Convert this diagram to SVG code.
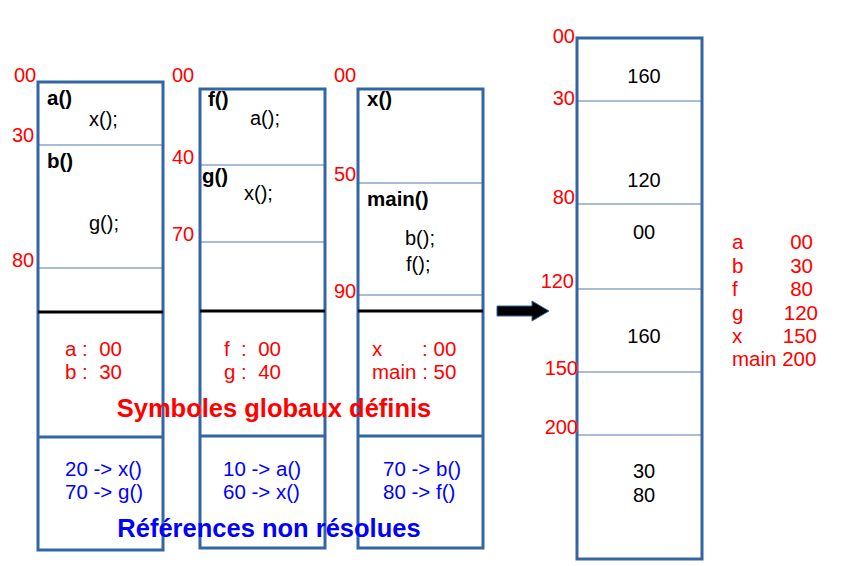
<svg xmlns="http://www.w3.org/2000/svg" width="845" height="566" viewBox="0 0 845 566">
<style>
text{font-family:"Liberation Sans",Arial,sans-serif;white-space:pre;}
.box{fill:none;stroke:#3465a4;stroke-width:3;}
.thin{stroke:#3465a4;stroke-width:1;opacity:0.85;}
.sep{stroke:#000;stroke-width:3;}
.sep2{stroke:#3465a4;stroke-width:3;}
.addr{fill:#ff0000;font-size:20px;}
.code{fill:#000;font-size:20px;}
.fn{fill:#000;font-size:20.5px;font-weight:bold;}
.sym{fill:#ff0000;font-size:20.5px;}
.ref{fill:#0000ff;font-size:20.5px;}
.mem{fill:#000;font-size:20px;text-anchor:middle;}
</style>
<g id="module1">
<rect class="box" x="38" y="82" width="125" height="468"/>
<line class="thin" x1="38" y1="145" x2="163" y2="145"/>
<line class="thin" x1="38" y1="268" x2="163" y2="268"/>
<line class="sep" x1="38" y1="312" x2="163" y2="312"/>
<line class="sep2" x1="38" y1="437" x2="163" y2="437"/>
<text class="addr" x="14" y="82">00</text>
<text class="addr" x="12" y="142">30</text>
<text class="addr" x="12" y="267">80</text>
<text class="fn" x="47" y="105">a()</text>
<text class="code" x="89" y="126">x();</text>
<text class="fn" x="47" y="168">b()</text>
<text class="code" x="89" y="230">g();</text>
<text class="sym" x="65" y="356" xml:space="preserve">a :  00</text>
<text class="sym" x="65" y="379" xml:space="preserve">b :  30</text>
<text class="ref" x="65" y="476">20 -&gt; x()</text>
<text class="ref" x="65" y="499">70 -&gt; g()</text>
</g>
<g id="module2">
<rect class="box" x="200" y="89" width="125" height="459"/>
<line class="thin" x1="200" y1="165" x2="325" y2="165"/>
<line class="thin" x1="200" y1="242" x2="325" y2="242"/>
<line class="sep" x1="200" y1="311" x2="325" y2="311"/>
<line class="sep2" x1="200" y1="436" x2="325" y2="436"/>
<text class="addr" x="172" y="82">00</text>
<text class="addr" x="172" y="164">40</text>
<text class="addr" x="172" y="241">70</text>
<text class="fn" x="208" y="106">f()</text>
<text class="code" x="250" y="125">a();</text>
<text class="fn" x="202" y="183">g()</text>
<text class="code" x="244" y="200">x();</text>
<text class="sym" x="224" y="356" xml:space="preserve">f  :  00</text>
<text class="sym" x="224" y="379" xml:space="preserve">g :  40</text>
<text class="ref" x="223" y="476">10 -&gt; a()</text>
<text class="ref" x="223" y="499">60 -&gt; x()</text>
</g>
<g id="module3">
<rect class="box" x="358" y="89" width="125" height="459"/>
<line class="thin" x1="358" y1="183" x2="483" y2="183"/>
<line class="thin" x1="358" y1="295" x2="483" y2="295"/>
<line class="sep" x1="358" y1="311" x2="483" y2="311"/>
<line class="sep2" x1="358" y1="436" x2="483" y2="436"/>
<text class="addr" x="334" y="82">00</text>
<text class="addr" x="334" y="181">50</text>
<text class="addr" x="334" y="298">90</text>
<text class="fn" x="367" y="106">x()</text>
<text class="fn" x="367" y="206">main()</text>
<text class="code" x="405" y="245">b();</text>
<text class="code" x="406" y="271">f();</text>
<text class="sym" x="372" y="356" xml:space="preserve">x       : 00</text>
<text class="sym" x="372" y="379">main : 50</text>
<text class="ref" x="383" y="476">70 -&gt; b()</text>
<text class="ref" x="383" y="499">80 -&gt; f()</text>
</g>
<g id="titles">
<text x="274" y="417" text-anchor="middle" style="fill:#ff0000;font-size:25.5px;font-weight:bold">Symboles globaux définis</text>
<text x="269" y="537" text-anchor="middle" style="fill:#0000ff;font-size:25.5px;font-weight:bold">Références non résolues</text>
</g>
<g id="connectors">
<polygon points="497,306 532,306 532,301 549,311 532,321 532,316 497,316" fill="#000" stroke="#3465a4" stroke-width="1"/>
</g>
<g id="executable">
<rect class="box" x="577" y="38" width="125" height="521"/>
<line class="thin" x1="577" y1="101" x2="702" y2="101"/>
<line class="thin" x1="577" y1="204" x2="702" y2="204"/>
<line class="thin" x1="577" y1="289" x2="702" y2="289"/>
<line class="thin" x1="577" y1="372" x2="702" y2="372"/>
<line class="thin" x1="577" y1="435" x2="702" y2="435"/>
<text class="addr" x="575" y="43" text-anchor="end">00</text>
<text class="addr" x="575" y="105" text-anchor="end">30</text>
<text class="addr" x="575" y="204" text-anchor="end">80</text>
<text class="addr" x="574" y="288" text-anchor="end">120</text>
<text class="addr" x="578" y="375" text-anchor="end">150</text>
<text class="addr" x="578" y="434" text-anchor="end">200</text>
<text class="mem" x="644" y="83">160</text>
<text class="mem" x="644" y="187">120</text>
<text class="mem" x="644" y="239">00</text>
<text class="mem" x="644" y="343">160</text>
<text class="mem" x="644" y="478">30</text>
<text class="mem" x="644" y="502">80</text>
</g>
<g id="legend">
<text class="sym" x="732" y="249">a</text><text class="sym" x="813" y="249" text-anchor="end">00</text>
<text class="sym" x="732" y="273">b</text><text class="sym" x="813" y="273" text-anchor="end">30</text>
<text class="sym" x="732" y="296">f</text><text class="sym" x="813" y="296" text-anchor="end">80</text>
<text class="sym" x="732" y="320">g</text><text class="sym" x="818" y="320" text-anchor="end">120</text>
<text class="sym" x="732" y="343">x</text><text class="sym" x="817" y="343" text-anchor="end">150</text>
<text class="sym" x="732" y="366">main 200</text>
</g>
</svg>
